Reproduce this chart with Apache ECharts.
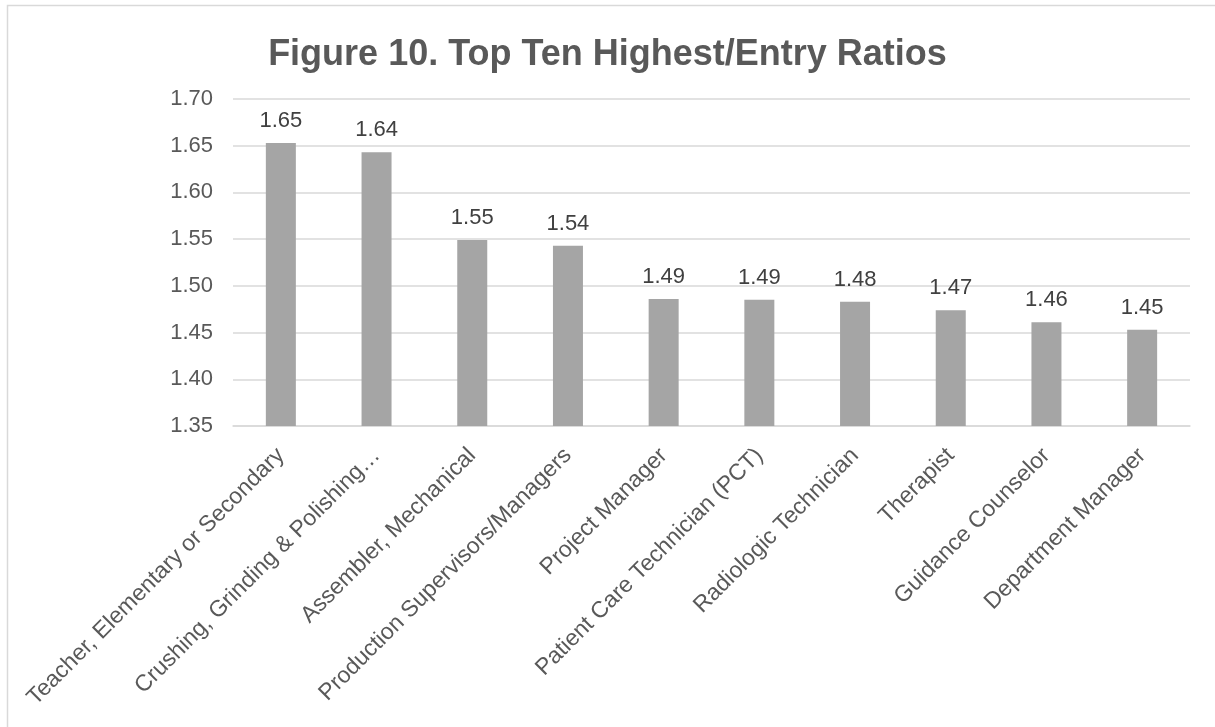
<!DOCTYPE html>
<html>
<head>
<meta charset="utf-8">
<script src="https://cdn.jsdelivr.net/npm/echarts@6/dist/echarts.min.js"></script>
<style>html,body{margin:0;padding:0;background:#fff;}#c{width:1215px;height:727px;}</style>
</head>
<body>
<div id="c"></div>
<script>
const categories = ["Teacher, Elementary or Secondary", "Crushing, Grinding & Polishing…", "Assembler, Mechanical", "Production Supervisors/Managers", "Project Manager", "Patient Care Technician (PCT)", "Radiologic Technician", "Therapist", "Guidance Counselor", "Department Manager"];
const ratios = [1.653, 1.643, 1.549, 1.543, 1.486, 1.485, 1.483, 1.474, 1.461, 1.453];
const yTicks = {min: 1.35, max: 1.70, interval: 0.05};

const chart = echarts.init(document.getElementById('c'));
chart.setOption({
  animation: false,
  backgroundColor: '#fff',
  textStyle: {fontFamily: 'Liberation Sans, Arial, sans-serif'},
  title: {
    text: 'Figure 10. Top Ten Highest/Entry Ratios',
    left: 'center', top: 32,
    textStyle: {fontSize: 36, fontWeight: 'bold', color: '#595959', fontFamily: 'Liberation Sans, Arial, sans-serif'}
  },
  graphic: [{
    type: 'rect', shape: {x: 7.5, y: 5.5, width: 1220, height: 740},
    style: {fill: 'none', stroke: '#d9d9d9', lineWidth: 1.5}, silent: true
  }],
  grid: {left: 233, right: 25, top: 99, bottom: 301},
  xAxis: {
    type: 'category', data: categories,
    axisLine: {show: true, lineStyle: {color: '#d9d9d9', width: 1.5}},
    axisTick: {show: false},
    axisLabel: {rotate: 45, interval: 0, color: '#595959', fontSize: 23, margin: 26}
  },
  yAxis: {
    type: 'value', min: yTicks.min, max: yTicks.max, interval: yTicks.interval,
    axisLine: {show: false}, axisTick: {show: false},
    axisLabel: {color: '#595959', fontSize: 22, margin: 20, formatter: v => v.toFixed(2)},
    splitLine: {lineStyle: {color: '#d9d9d9', width: 1.5}}
  },
  series: [{
    type: 'bar', data: ratios, barWidth: 30,
    itemStyle: {color: '#a5a5a5'},
    label: {show: true, position: 'top', distance: 11, color: '#404040', fontSize: 22, formatter: p => p.value.toFixed(2)}
  }]
});
</script>
</body>
</html>
